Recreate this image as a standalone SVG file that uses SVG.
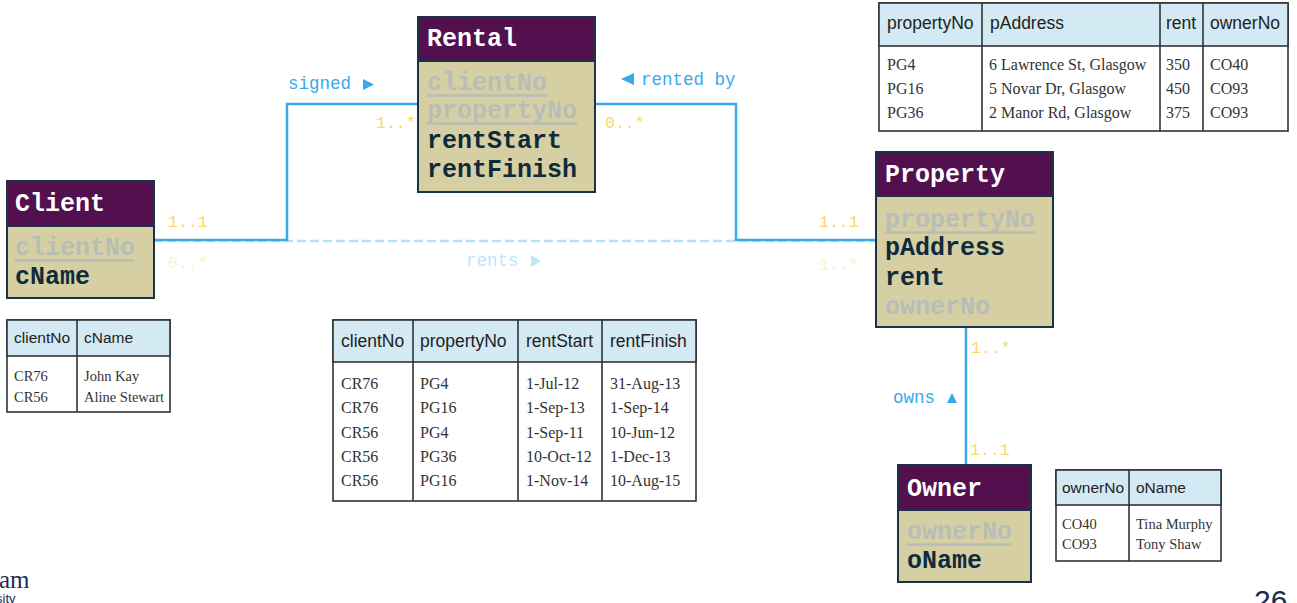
<svg xmlns="http://www.w3.org/2000/svg" width="1297" height="603" viewBox="0 0 1297 603">
<style>
.hdr{fill:#52104f;stroke:#1b3445;stroke-width:2}
.body{fill:#d6cfa4;stroke:#1b3445;stroke-width:2}
.ttl{font-family:"Liberation Mono","Courier New",monospace;font-weight:bold;font-size:25px;fill:#ffffff}
.att{font-family:"Liberation Mono","Courier New",monospace;font-weight:bold;font-size:25px;fill:#0f2a3a}
.key{font-family:"Liberation Mono","Courier New",monospace;font-weight:bold;font-size:25px;fill:#b6beb7}
.ul{stroke:#b6beb7;stroke-width:2.5}
.conn{fill:none;stroke:#3aa9ea;stroke-width:2.5}
.dash{fill:none;stroke:#b3e2f7;stroke-width:2.5;stroke-dasharray:9 4}
.lbl{font-family:"Liberation Mono","Courier New",monospace;font-size:17.5px;fill:#3aa9ea}
.lblf{font-family:"Liberation Mono","Courier New",monospace;font-size:17.5px;fill:#bfe6f8}
.mul{font-family:"Liberation Mono","Courier New",monospace;font-size:16.5px;fill:#fbd866}
.mulf{font-family:"Liberation Mono","Courier New",monospace;font-size:16.5px;fill:#fdf2cc}
.tb{fill:#ffffff;stroke:#333333;stroke-width:1.6}
.th{fill:#d3e9f3;stroke:#333333;stroke-width:1.6}
.tl{stroke:#333333;stroke-width:1.6}
.hs{font-family:"Liberation Sans",Arial,sans-serif;font-size:17.5px;fill:#222222}
.hss{font-family:"Liberation Sans",Arial,sans-serif;font-size:15.5px;fill:#222222}
.bs{font-family:"Liberation Serif","Times New Roman",serif;font-size:16px;fill:#333333}
.bss{font-family:"Liberation Serif","Times New Roman",serif;font-size:14.5px;fill:#333333}
</style>

<g id="connectors">
  <polyline class="dash" points="154,241 876,241"/>
  <polyline class="conn" points="154,240 287,240 287,104 418,104"/>
  <polyline class="conn" points="595,104 736,104 736,240 876,240"/>
  <line class="conn" x1="966" y1="327" x2="966" y2="465"/>
  <text class="lbl" x="288" y="89">signed</text>
  <polygon points="363,79 374,84.5 363,90" fill="#3aa9ea"/>
  <text class="lbl" x="641" y="85">rented by</text>
  <polygon points="634,73 621,79 634,85" fill="#3aa9ea"/>
  <text class="lblf" x="466" y="266">rents</text>
  <polygon points="531,255 541,261 531,267" fill="#bfe6f8"/>
  <text class="lbl" x="893" y="403">owns</text>
  <polygon points="947,403 952,393 957,403" fill="#3aa9ea"/>
  <text class="mul" x="376" y="128">1..*</text>
  <text class="mul" x="605" y="128">0..*</text>
  <text class="mul" x="168" y="227">1..1</text>
  <text class="mulf" x="168" y="268">0..*</text>
  <text class="mul" x="819" y="227">1..1</text>
  <text class="mulf" x="819" y="270">1..*</text>
  <text class="mul" x="971" y="353">1..*</text>
  <text class="mul" x="970" y="455">1..1</text>
</g>

<g id="rental">
  <rect class="hdr" x="418" y="17" width="177" height="44"/>
  <rect class="body" x="418" y="61" width="177" height="131"/>
  <text class="ttl" x="427" y="46">Rental</text>
  <text class="key" x="427" y="90">clientNo</text>
  <line class="ul" x1="427" y1="95.5" x2="547" y2="95.5"/>
  <text class="key" x="427" y="118">propertyNo</text>
  <line class="ul" x1="427" y1="123.5" x2="577" y2="123.5"/>
  <text class="att" x="427" y="148">rentStart</text>
  <text class="att" x="427" y="177">rentFinish</text>
</g>

<g id="client">
  <rect class="hdr" x="7" y="181" width="147" height="45"/>
  <rect class="body" x="7" y="226" width="147" height="72"/>
  <text class="ttl" x="15" y="211">Client</text>
  <text class="key" x="15" y="255">clientNo</text>
  <line class="ul" x1="15" y1="260.5" x2="135" y2="260.5"/>
  <text class="att" x="15" y="284">cName</text>
</g>

<g id="property">
  <rect class="hdr" x="876" y="152" width="177" height="44"/>
  <rect class="body" x="876" y="196" width="177" height="131"/>
  <text class="ttl" x="885" y="182">Property</text>
  <text class="key" x="885" y="227">propertyNo</text>
  <line class="ul" x1="885" y1="232.5" x2="1035" y2="232.5"/>
  <text class="att" x="885" y="255">pAddress</text>
  <text class="att" x="885" y="285">rent</text>
  <text class="key" x="885" y="314">ownerNo</text>
</g>

<g id="owner">
  <rect class="hdr" x="898" y="465" width="133" height="45"/>
  <rect class="body" x="898" y="510" width="133" height="72"/>
  <text class="ttl" x="907" y="496">Owner</text>
  <text class="key" x="907" y="539">ownerNo</text>
  <line class="ul" x1="907" y1="544.5" x2="1012" y2="544.5"/>
  <text class="att" x="907" y="568">oName</text>
</g>

<g id="property-table">
  <rect class="tb" x="879" y="3" width="409" height="128"/>
  <rect class="th" x="879" y="3" width="409" height="43"/>
  <line class="tl" x1="982" y1="3" x2="982" y2="131"/>
  <line class="tl" x1="1160" y1="3" x2="1160" y2="131"/>
  <line class="tl" x1="1203" y1="3" x2="1203" y2="131"/>
  <text class="hs" x="887" y="29">propertyNo</text>
  <text class="hs" x="990" y="29">pAddress</text>
  <text class="hs" x="1166" y="29">rent</text>
  <text class="hs" x="1210" y="29">ownerNo</text>
  <text class="bs" x="887" y="70">PG4</text>
  <text class="bs" x="887" y="94">PG16</text>
  <text class="bs" x="887" y="118">PG36</text>
  <text class="bs" x="989" y="70">6 Lawrence St, Glasgow</text>
  <text class="bs" x="989" y="94">5 Novar Dr, Glasgow</text>
  <text class="bs" x="989" y="118">2 Manor Rd, Glasgow</text>
  <text class="bs" x="1166" y="70">350</text>
  <text class="bs" x="1166" y="94">450</text>
  <text class="bs" x="1166" y="118">375</text>
  <text class="bs" x="1210" y="70">CO40</text>
  <text class="bs" x="1210" y="94">CO93</text>
  <text class="bs" x="1210" y="118">CO93</text>
</g>

<g id="client-table">
  <rect class="tb" x="7" y="320" width="163" height="92"/>
  <rect class="th" x="7" y="320" width="163" height="36"/>
  <line class="tl" x1="77" y1="320" x2="77" y2="412"/>
  <text class="hss" x="14" y="343">clientNo</text>
  <text class="hss" x="84" y="343">cName</text>
  <text class="bss" x="14" y="381">CR76</text>
  <text class="bss" x="14" y="402">CR56</text>
  <text class="bss" x="84" y="381">John Kay</text>
  <text class="bss" x="84" y="402">Aline Stewart</text>
</g>

<g id="rental-table">
  <rect class="tb" x="333" y="320" width="363" height="181"/>
  <rect class="th" x="333" y="320" width="363" height="42"/>
  <line class="tl" x1="413" y1="320" x2="413" y2="501"/>
  <line class="tl" x1="518" y1="320" x2="518" y2="501"/>
  <line class="tl" x1="602" y1="320" x2="602" y2="501"/>
  <text class="hs" x="341" y="347">clientNo</text>
  <text class="hs" x="420" y="347">propertyNo</text>
  <text class="hs" x="526" y="347">rentStart</text>
  <text class="hs" x="610" y="347">rentFinish</text>
  <text class="bs" x="341" y="389">CR76</text>
  <text class="bs" x="341" y="413">CR76</text>
  <text class="bs" x="341" y="438">CR56</text>
  <text class="bs" x="341" y="462">CR56</text>
  <text class="bs" x="341" y="486">CR56</text>
  <text class="bs" x="420" y="389">PG4</text>
  <text class="bs" x="420" y="413">PG16</text>
  <text class="bs" x="420" y="438">PG4</text>
  <text class="bs" x="420" y="462">PG36</text>
  <text class="bs" x="420" y="486">PG16</text>
  <text class="bs" x="526" y="389">1-Jul-12</text>
  <text class="bs" x="526" y="413">1-Sep-13</text>
  <text class="bs" x="526" y="438">1-Sep-11</text>
  <text class="bs" x="526" y="462">10-Oct-12</text>
  <text class="bs" x="526" y="486">1-Nov-14</text>
  <text class="bs" x="610" y="389">31-Aug-13</text>
  <text class="bs" x="610" y="413">1-Sep-14</text>
  <text class="bs" x="610" y="438">10-Jun-12</text>
  <text class="bs" x="610" y="462">1-Dec-13</text>
  <text class="bs" x="610" y="486">10-Aug-15</text>
</g>

<g id="owner-table">
  <rect class="tb" x="1056" y="470" width="165" height="91"/>
  <rect class="th" x="1056" y="470" width="165" height="35"/>
  <line class="tl" x1="1129" y1="470" x2="1129" y2="561"/>
  <text class="hss" x="1062" y="493">ownerNo</text>
  <text class="hss" x="1136" y="493">oName</text>
  <text class="bss" x="1062" y="529">CO40</text>
  <text class="bss" x="1062" y="549">CO93</text>
  <text class="bss" x="1136" y="529">Tina Murphy</text>
  <text class="bss" x="1136" y="549">Tony Shaw</text>
</g>

<g id="footer">
  <text x="-1" y="588" font-family="'Liberation Serif','Times New Roman',serif" font-size="25" fill="#1b2d4f">am</text>
  <text x="-4" y="603" font-family="'Liberation Sans',Arial,sans-serif" font-size="13" fill="#1b2d4f">sity</text>
  <text x="1254" y="611" font-family="'Liberation Sans',Arial,sans-serif" font-size="30" fill="#1b2d4f">26</text>
</g>
</svg>
